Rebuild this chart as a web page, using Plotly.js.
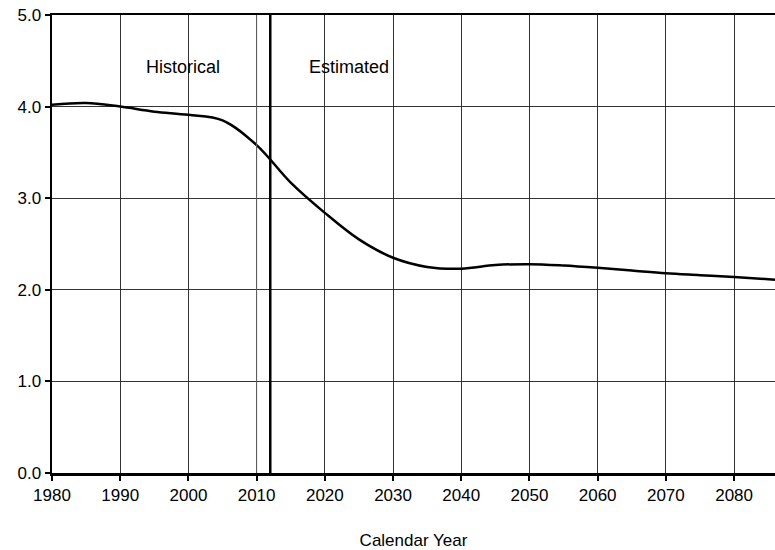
<!DOCTYPE html>
<html>
<head>
<meta charset="utf-8">
<script src="https://cdn.plot.ly/plotly-3.0.1.min.js"></script>
<style>html,body{margin:0;padding:0;background:#fff;}#chart{width:775px;height:550px;}</style>
</head>
<body>
<div id="chart"></div>
<script>
const years = [1980, 1985, 1990, 1995, 2000, 2005, 2010, 2015, 2020, 2025, 2030, 2035, 2040, 2045, 2050, 2055, 2060, 2065, 2070, 2075, 2080, 2086];
const values = [4.02, 4.04, 4.0, 3.945, 3.91, 3.85, 3.58, 3.17, 2.84, 2.55, 2.35, 2.25, 2.23, 2.27, 2.28, 2.265, 2.24, 2.21, 2.18, 2.16, 2.14, 2.11];
const splitYear = [2012];
const regionLabels = ["Historical", "Estimated"];
const labelYears = [1999.2, 2023.5];
const labelLevel = [4.43, 4.43];
const xTicks = [1980, 1990, 2000, 2010, 2020, 2030, 2040, 2050, 2060, 2070, 2080];
const yTicks = [0, 1, 2, 3, 4, 5];

const fontFam = 'Liberation Sans, Arial, sans-serif';
const data = [{
  x: years, y: values, type: 'scatter', mode: 'lines',
  line: {color: '#000', width: 2.5, shape: 'spline', smoothing: 1},
  hoverinfo: 'skip', showlegend: false
}];
const layout = {
  width: 775, height: 550,
  margin: {l: 52, r: 0, t: 15, b: 77},
  paper_bgcolor: '#fff', plot_bgcolor: '#fff',
  font: {family: fontFam, size: 17, color: '#000'},
  showlegend: false,
  xaxis: {
    range: [1980, 2086], tickvals: xTicks, ticktext: xTicks.map(String),
    showgrid: true, gridcolor: '#333', gridwidth: 1,
    showline: true, linecolor: '#000', linewidth: 2.5, mirror: true,
    ticks: 'outside', ticklen: 5, tickwidth: 2, tickcolor: '#000',
    zeroline: false,
    tickfont: {family: fontFam, size: 17, color: '#000'},
    title: {text: 'Calendar Year', font: {family: fontFam, size: 17, color: '#000'}, standoff: 31}
  },
  yaxis: {
    range: [0, 5], tickvals: yTicks, tickformat: '.1f',
    showgrid: true, gridcolor: '#333', gridwidth: 1,
    showline: true, linecolor: '#000', linewidth: 2.5,
    ticks: 'outside', ticklen: 5, tickwidth: 2, tickcolor: '#000',
    zeroline: false,
    tickfont: {family: fontFam, size: 17, color: '#000'}
  },
  shapes: [
    {type: 'line', xref: 'x', yref: 'paper', x0: 2010, x1: 2010, y0: 0, y1: 1, line: {color: '#666', width: 1}},
    {type: 'line', xref: 'x', yref: 'paper', x0: splitYear[0], x1: splitYear[0], y0: 0, y1: 1, line: {color: '#000', width: 2.5}}
  ],
  annotations: regionLabels.map((t, i) => ({
    x: labelYears[i], y: labelLevel[i], xref: 'x', yref: 'y', text: t, showarrow: false,
    font: {family: fontFam, size: 18, color: '#000'}
  }))
};
Plotly.newPlot('chart', data, layout, {staticPlot: true, displayModeBar: false});
</script>
</body>
</html>
